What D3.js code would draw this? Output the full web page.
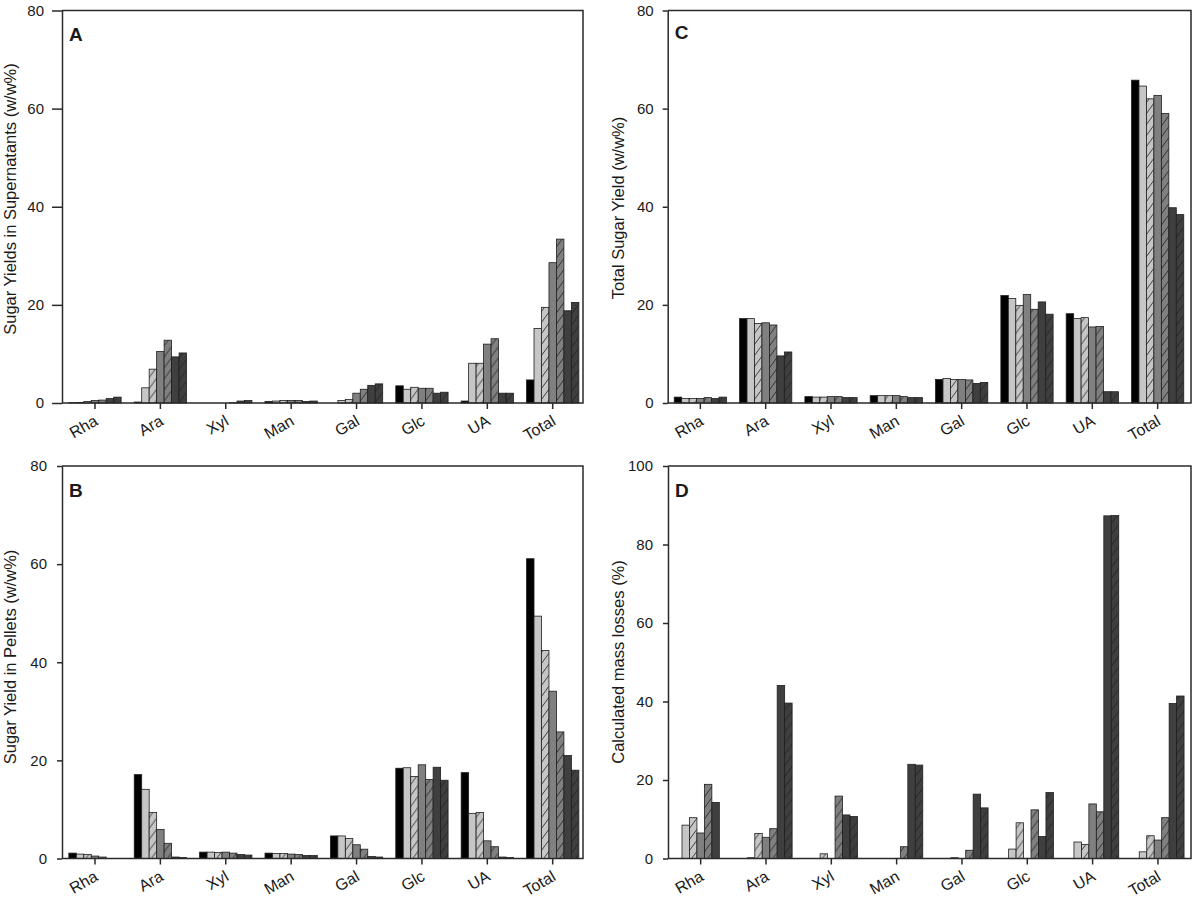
<!DOCTYPE html>
<html>
<head>
<meta charset="utf-8">
<script src="https://cdnjs.cloudflare.com/ajax/libs/d3/7.8.5/d3.min.js"></script>
<style>
  body { margin: 0; background: #fff; }
  svg text { font-family: Arial, "Liberation Sans", sans-serif; fill: #1a1a1a; }
</style>
</head>
<body>
<svg id="chart" width="1200" height="899"></svg>
<script>
// sugars on the x axis, seven treatments per sugar
var categories = ["Rha", "Ara", "Xyl", "Man", "Gal", "Glc", "UA", "Total"];
var seriesKeys = ["s1", "s2", "s3", "s4", "s5", "s6", "s7"];

// A - sugar yields in supernatants (one row per sugar)
var supernatant = [
  [0.05, 0.1, 0.3, 0.5, 0.6, 0.9, 1.2],
  [0.2, 3.1, 6.9, 10.5, 12.8, 9.4, 10.2],
  [0, 0, 0, 0, 0.05, 0.4, 0.5],
  [0.3, 0.4, 0.5, 0.5, 0.5, 0.3, 0.4],
  [0, 0.5, 0.7, 2.0, 2.8, 3.6, 3.9],
  [3.5, 2.8, 3.2, 3.0, 3.0, 2.0, 2.2],
  [0.4, 8.1, 8.1, 12.0, 13.1, 2.0, 2.0],
  [4.7, 15.2, 19.5, 28.6, 33.4, 18.8, 20.5]
];

// B - sugar yield in pellets
var pellet = [
  [1.1, 0.9, 0.8, 0.5, 0.3, 0, 0],
  [17.1, 14.1, 9.4, 5.9, 3.1, 0.3, 0.2],
  [1.3, 1.3, 1.2, 1.3, 1.1, 0.8, 0.7],
  [1.1, 1.0, 1.0, 0.9, 0.8, 0.6, 0.6],
  [4.6, 4.6, 4.1, 2.8, 1.9, 0.4, 0.3],
  [18.4, 18.5, 16.7, 19.1, 16.1, 18.6, 15.95],
  [17.5, 9.2, 9.4, 3.6, 2.4, 0.3, 0.2],
  [61.1, 49.4, 42.4, 34.1, 25.8, 21.0, 18.0]
];

// C - total sugar yield
var totalYield = [
  [1.2, 0.9, 0.9, 0.9, 1.1, 0.9, 1.2],
  [17.2, 17.2, 16.2, 16.35, 15.9, 9.6, 10.4],
  [1.3, 1.2, 1.2, 1.3, 1.3, 1.1, 1.1],
  [1.5, 1.5, 1.5, 1.5, 1.3, 1.1, 1.1],
  [4.8, 5.0, 4.8, 4.8, 4.7, 4.0, 4.2],
  [21.9, 21.3, 19.9, 22.1, 19.1, 20.6, 18.1],
  [18.2, 17.2, 17.4, 15.5, 15.6, 2.3, 2.3],
  [65.8, 64.6, 62.0, 62.7, 59.0, 39.8, 38.4]
];

// D - calculated mass losses
var massLoss = [
  [0, 8.5, 10.4, 6.5, 18.9, 14.3, 0],
  [0, 0.2, 6.4, 5.4, 7.6, 44.1, 39.6],
  [0, 0, 1.2, 0, 15.9, 11.1, 10.7],
  [0, 0, 0, 0, 3.0, 24.0, 23.8],
  [0, 0, 0.2, 0, 2.1, 16.4, 12.9],
  [0, 2.4, 9.1, 0, 12.4, 5.6, 16.8],
  [0, 4.2, 3.6, 13.9, 11.9, 87.3, 87.4],
  [0, 1.7, 5.8, 4.7, 10.4, 39.5, 41.4]
];

var ticks80 = [0, 20, 40, 60, 80];
var ticks100 = [0, 20, 40, 60, 80, 100];

var fills = ["#000000", "#c6c6c6", "#c6c6c6", "#808080", "#808080", "#3f3f3f", "#3f3f3f"];
var hatched = [false, false, true, false, true, false, true];

var svg = d3.select("#chart");
var defs = svg.append("defs");

seriesKeys.forEach(function (k, i) {
  if (!hatched[i]) return;
  var p = defs.append("pattern")
    .attr("id", "hatch-" + k)
    .attr("patternUnits", "userSpaceOnUse")
    .attr("width", 8)
    .attr("height", 11);
  p.append("rect").attr("width", 8).attr("height", 11).attr("fill", fills[i]);
  p.append("path")
    .attr("d", "M0,11L8,0M-1,1.4L1,-1.4M7,12.4L9,9.6")
    .attr("stroke", "#1e1e1e")
    .attr("stroke-width", 0.8)
    .attr("fill", "none");
});

function panel(opts) {
  var x0 = d3.scaleBand().domain(categories).range([opts.bandStart, opts.bandEnd]);
  var bw = x0.bandwidth();
  var x1 = d3.scaleBand().domain(seriesKeys).range([bw * 0.1, bw * 0.9]);
  var y = d3.scaleLinear().domain([0, opts.max]).range([opts.bottom, opts.top]);

  var g = svg.append("g");

  g.append("g")
    .selectAll("g")
    .data(opts.data)
    .join("g")
    .attr("transform", function (d, i) { return "translate(" + x0(categories[i]) + ",0)"; })
    .selectAll("rect")
    .data(function (row) {
      return row.map(function (v, j) { return { key: seriesKeys[j], idx: j, value: v }; })
        .filter(function (d) { return d.value > 0; });
    })
    .join("rect")
    .attr("x", function (d) { return x1(d.key); })
    .attr("y", function (d) { return y(d.value); })
    .attr("width", x1.bandwidth())
    .attr("height", function (d) { return y(0) - y(d.value); })
    .attr("fill", function (d) {
      return hatched[d.idx] ? "url(#hatch-" + d.key + ")" : fills[d.idx];
    })
    .attr("stroke", "#1e1e1e")
    .attr("stroke-width", 0.8);

  // frame top and right, and the baseline
  g.append("path")
    .attr("d", "M" + opts.left + "," + opts.top + "H" + opts.right + "V" + opts.bottom + "H" + opts.left)
    .attr("fill", "none")
    .attr("stroke", "#2a2a2a")
    .attr("stroke-width", 1.5);

  var ya = g.append("g")
    .attr("transform", "translate(" + opts.left + ",0)")
    .call(d3.axisLeft(y).tickValues(opts.ticks).tickSize(opts.tick).tickSizeOuter(0).tickPadding(opts.pad));
  ya.selectAll("path, line").attr("stroke", "#2a2a2a").attr("stroke-width", 1.5);
  ya.selectAll("text").attr("font-size", 15).attr("fill", "#1a1a1a");

  var xa = g.append("g")
    .attr("transform", "translate(0," + opts.bottom + ")")
    .call(d3.axisBottom(x0).tickSize(6).tickSizeOuter(0));
  xa.select(".domain").remove();
  xa.selectAll("line").attr("stroke", "#2a2a2a").attr("stroke-width", 1.5);
  xa.selectAll("text")
    .attr("font-size", 16)
    .attr("fill", "#1a1a1a")
    .attr("y", 0)
    .attr("dy", 0)
    .attr("text-anchor", "end")
    .attr("transform", "translate(4,21) rotate(-30)");

  g.append("text")
    .attr("transform", "translate(" + opts.titleX + "," + opts.titleY + ") rotate(-90)")
    .attr("text-anchor", "middle")
    .attr("font-size", 16.5)
    .text(opts.title);

  g.append("text")
    .attr("x", opts.left + 7)
    .attr("y", opts.letterY)
    .attr("font-size", 19)
    .attr("font-weight", "bold")
    .attr("fill", "#000")
    .text(opts.letter);
}

panel({ data: supernatant, left: 62, right: 583, bandStart: 62.3, bandEnd: 585.4,
  top: 10.5, bottom: 403, max: 80, ticks: ticks80, tick: 10, pad: 8,
  titleX: 16, titleY: 199, title: "Sugar Yields in Supernatants (w/w%)",
  letter: "A", letterY: 40.5 });
panel({ data: totalYield, left: 667.7, right: 1191, bandStart: 667.7, bandEnd: 1190.3,
  top: 10.5, bottom: 403, max: 80, ticks: ticks80, tick: 5, pad: 9,
  titleX: 624, titleY: 208, title: "Total Sugar Yield (w/w%)",
  letter: "C", letterY: 38.5 });
panel({ data: pellet, left: 62, right: 583, bandStart: 62.3, bandEnd: 585.4,
  top: 466, bottom: 858.5, max: 80, ticks: ticks80, tick: 5, pad: 10,
  titleX: 16, titleY: 657, title: "Sugar Yield in Pellets (w/w%)",
  letter: "B", letterY: 497 });
panel({ data: massLoss, left: 668, right: 1191, bandStart: 668, bandEnd: 1190.6,
  top: 466, bottom: 858.5, max: 100, ticks: ticks100, tick: 5, pad: 10,
  titleX: 624, titleY: 662, title: "Calculated mass losses (%)",
  letter: "D", letterY: 497 });
</script>
</body>
</html>
